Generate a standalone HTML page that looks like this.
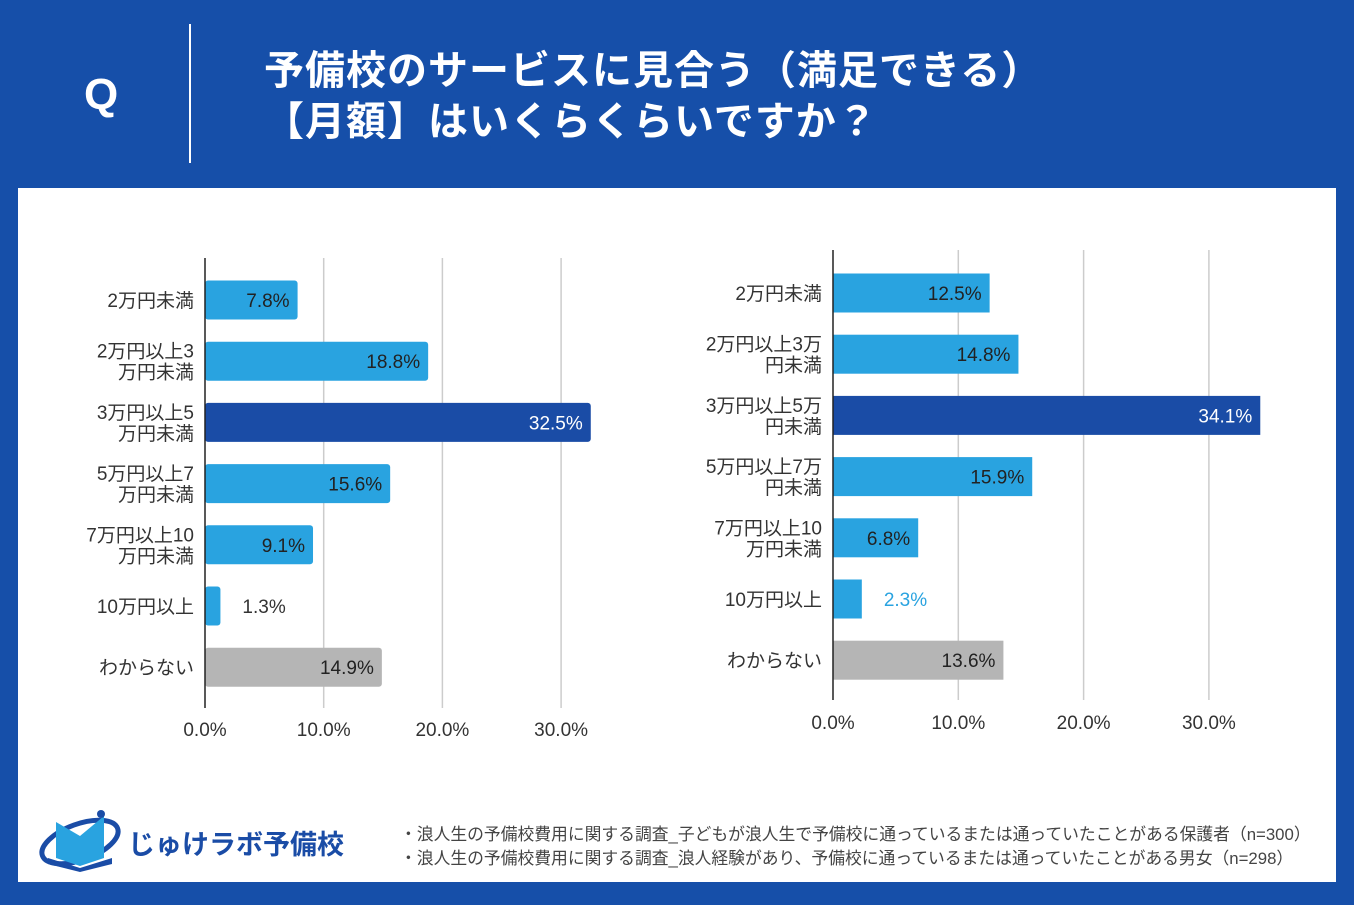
<!DOCTYPE html>
<html><head><meta charset="utf-8">
<style>
html,body{margin:0;padding:0;}
body{width:1354px;height:905px;background:#164fa9;position:relative;overflow:hidden;font-family:"Liberation Sans","Noto Sans CJK JP",sans-serif;}
#q{position:absolute;left:84px;top:70px;color:#fff;font-size:44px;font-weight:bold;}
#vline{position:absolute;left:189px;top:24px;width:2px;height:139px;background:#fff;}
#title{position:absolute;left:264px;top:46px;color:#fff;font-size:40px;font-weight:bold;line-height:51px;letter-spacing:1px;white-space:nowrap;}
#panel{position:absolute;left:18px;top:188px;width:1318px;height:694px;background:#fff;}
svg text{font-family:"Liberation Sans","Noto Sans CJK JP",sans-serif;}
#foot{position:absolute;left:400px;top:823px;font-size:16.8px;color:#444;line-height:24px;white-space:nowrap;}
#logo{position:absolute;left:38px;top:808px;}
</style></head><body>
<div id="q">Q</div>
<div id="vline"></div>
<div id="title">予備校のサービスに見合う（満足できる）<br>【月額】はいくらくらいですか？</div>
<div id="panel"></div>
<svg id="chart" width="1354" height="905" style="position:absolute;left:0;top:0"></svg>
<div id="logo">
<svg width="330" height="64">
<ellipse cx="42" cy="34" rx="40" ry="18" fill="none" stroke="#1a4ca6" stroke-width="5" transform="rotate(-20 42 34)"/>
<path d="M18 14 L42 28 L66 8 L66 50 L42 58 L18 50 Z" fill="#29a3e0"/>
<path d="M10 50 L42 60 L74 50 L74 56 L42 64 L10 56 Z" fill="#1a4ca6"/>
<circle cx="63" cy="6" r="4" fill="#1a4ca6"/>
<text x="90" y="46" font-size="27" font-weight="bold" fill="#1a4ca6">じゅけラボ予備校</text>
</svg></div>
<div id="foot">・浪人生の予備校費用に関する調査_子どもが浪人生で予備校に通っているまたは通っていたことがある保護者（n=300）<br>・浪人生の予備校費用に関する調査_浪人経験があり、予備校に通っているまたは通っていたことがある男女（n=298）</div>
<script>
const leftCats=[["2万円未満"],["2万円以上3","万円未満"],["3万円以上5","万円未満"],["5万円以上7","万円未満"],["7万円以上10","万円未満"],["10万円以上"],["わからない"]];
const leftVals=[7.8,18.8,32.5,15.6,9.1,1.3,14.9];
const rightCats=[["2万円未満"],["2万円以上3万","円未満"],["3万円以上5万","円未満"],["5万円以上7万","円未満"],["7万円以上10","万円未満"],["10万円以上"],["わからない"]];
const rightVals=[12.5,14.8,34.1,15.9,6.8,2.3,13.6];
const barTypes=["l","l","d","l","l","l","g"];
const ticks=[0,10,20,30];
const tickLabels=["0.0%","10.0%","20.0%","30.0%"];
const NS="http://www.w3.org/2000/svg";
const svg=document.getElementById("chart");
function mk(tag,attrs){const e=document.createElementNS(NS,tag);for(const k in attrs)e.setAttribute(k,attrs[k]);svg.appendChild(e);return e;}
const colors={l:"#29a3e0",d:"#1a4ca6",g:"#b5b5b5"};
function drawChart(cfg,cats,vals,prefix){
  const x=v=>cfg.x0+v*cfg.scale;
  const y=i=>cfg.yc0+i*cfg.step;
  ticks.forEach((t,i)=>{
    if(t>0){const g=mk("line",{x1:x(t),x2:x(t),y1:cfg.top,y2:cfg.bottom,stroke:"#cccccc","stroke-width":1.5});
    
    }
    const tl=mk("text",{x:x(t),y:cfg.tickY,"font-size":19,fill:"#333","text-anchor":"middle"});
    tl.textContent=tickLabels[i];
    
    
  });
  vals.forEach((v,i)=>{
    const t=barTypes[i];
    const r=mk("rect",{x:x(0),y:y(i)-cfg.bh/2,width:v*cfg.scale,height:cfg.bh,fill:colors[t],rx:cfg.rx});
    
    
    const w=v*cfg.scale;
    let lab;
    if(w>60){
      lab=mk("text",{x:x(v)-8,y:y(i)+7,"font-size":19,"text-anchor":"end",fill:t==="d"?"#fff":"#222"});
    }else{
      lab=mk("text",{x:x(v)+22,y:y(i)+7,"font-size":19,"text-anchor":"start",fill:cfg.outColor});
    }
    lab.textContent=v.toFixed(1)+"%";
    
    
    const c=cats[i];
    c.forEach((line,j)=>{
      const ct=mk("text",{x:cfg.x0-11,y:y(i)+7+(j-(c.length-1)/2)*21,"font-size":19,fill:"#333","text-anchor":"end"});
      ct.textContent=line;
      
      
    });
  });
  const ax=mk("line",{x1:x(0),x2:x(0),y1:cfg.top,y2:cfg.bottom,stroke:"#222","stroke-width":1.5});
  
  
}
drawChart({x0:205,scale:11.87,yc0:300,step:61.2,bh:39,top:258,bottom:708,tickY:736,rx:3,outColor:"#333"},leftCats,leftVals,"left");
drawChart({x0:833,scale:12.53,yc0:293,step:61.2,bh:39,top:250,bottom:700,tickY:729,rx:0,outColor:"#29a3e0"},rightCats,rightVals,"right");
</script>
</body></html>
